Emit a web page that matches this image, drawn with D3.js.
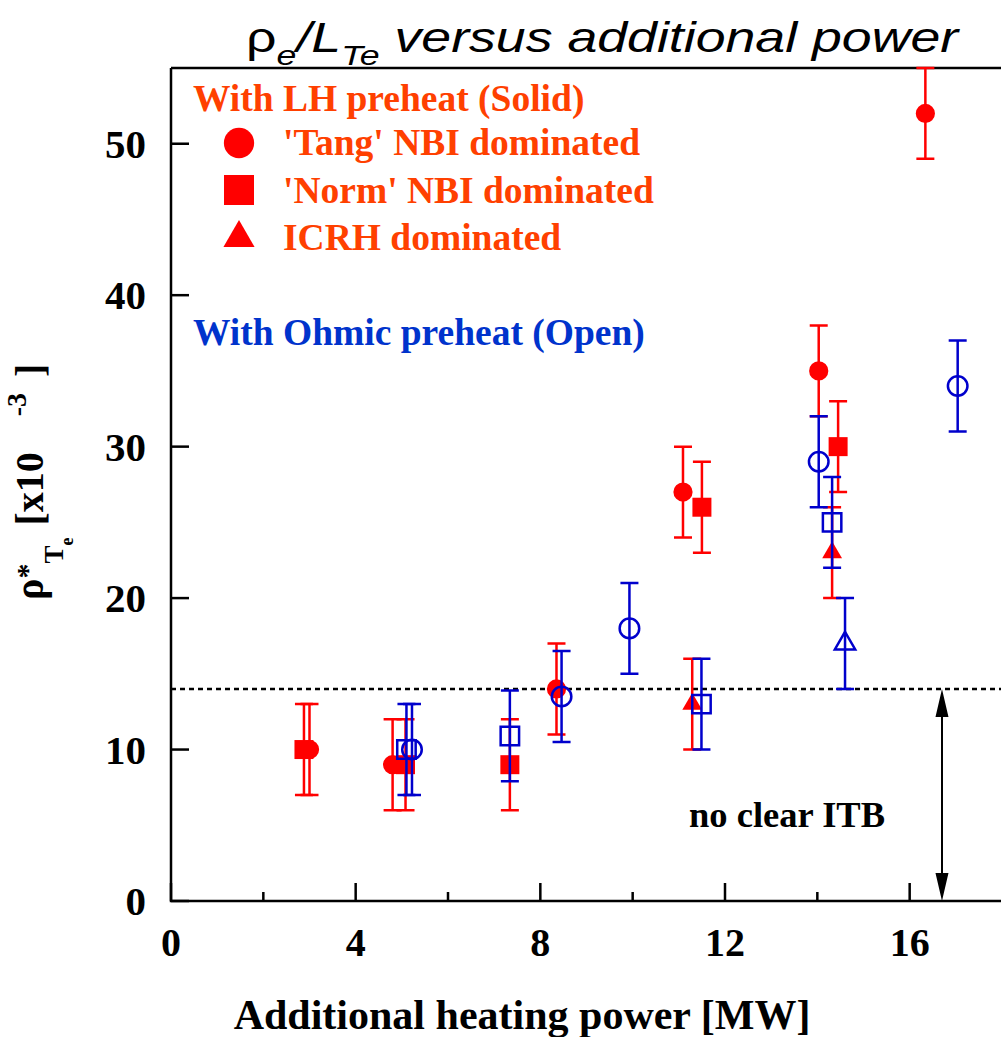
<!DOCTYPE html>
<html>
<head>
<meta charset="utf-8">
<script src="https://cdn.jsdelivr.net/npm/d3@7"></script>
<style>
  body { margin: 0; background: #fff; }
  svg { display: block; }
</style>
</head>
<body>
<script>
(function(){

    //data rows: [additional power MW, rho* x10^-3, error bar half height]
    //LH preheat (solid markers)
    var lhTang = [[3.0, 10, 3], [4.8, 9, 3], [8.35, 14, 3], [11.09, 27, 3], [14.03, 35, 3], [16.34, 52, 3]];
    var lhNorm = [[2.88, 10, 3], [5.08, 9, 3], [7.34, 9, 3], [11.5, 26, 3], [14.45, 30, 3]];
    var lhIcrh = [[11.29, 13, 3], [14.32, 23, 3]];
    //Ohmic preheat (open markers)
    var ohTang = [[5.22, 10, 3], [8.46, 13.5, 3], [9.93, 18, 3], [14.03, 29, 3], [17.04, 34, 3]];
    var ohNorm = [[5.1, 10, 3], [7.34, 10.9, 3], [11.49, 13, 3], [14.32, 25, 3]];
    var ohIcrh = [[14.6, 17, 3]];

    var xTicks = [0, 4, 8, 12, 16];
    var xMinorTicks = [2, 6, 10, 14];
    var yTicks = [0, 10, 20, 30, 40, 50];

    var itbLevel = 14;   //dotted threshold
    var itbArrowX = 16.7;

    var legendHeadLH = "With LH preheat (Solid)";
    var legendHeadOh = "With Ohmic preheat (Open)";
    var legendItems = ["'Tang' NBI dominated", "'Norm' NBI dominated", "ICRH dominated"];

    var red = "#ff0000", blue = "#0000cc",
        redText = "#ff4000", blueText = "#0033cc";
    var serif = "'Liberation Serif', 'Times New Roman', serif";

    var width = 1001, height = 1037;

    var svg = d3.select("body")
        .append("svg")
        .attr("width", width)
        .attr("height", height);

    var x = d3.scaleLinear().domain([0, 18]).range([171, 1002]);
    var y = d3.scaleLinear().domain([0, 55]).range([901, 68]);

    //frame
    var frame = svg.append("g")
        .attr("stroke", "#000")
        .attr("stroke-width", 2.5)
        .attr("fill", "none");
    frame.append("path")
        .attr("d", "M" + x(0) + "," + y(55) + "V" + y(0) + "H" + width);
    frame.append("path")
        .attr("d", "M" + x(0) + "," + y(55) + "H" + width);

    //ticks point inward
    frame.selectAll(".xt")
        .data(xTicks.concat(xMinorTicks))
        .enter()
        .append("line")
        .attr("x1", d => x(d)).attr("x2", d => x(d))
        .attr("y1", y(0))
        .attr("y2", d => y(0) - (xTicks.indexOf(d) >= 0 ? 18 : 9));
    frame.selectAll(".yt")
        .data(yTicks)
        .enter()
        .append("line")
        .attr("x1", x(0)).attr("x2", x(0) + 18)
        .attr("y1", d => y(d)).attr("y2", d => y(d));

    svg.selectAll(".xlab")
        .data(xTicks)
        .enter()
        .append("text")
        .attr("x", d => x(d))
        .attr("y", 956)
        .attr("text-anchor", "middle")
        .style("font", "bold 40px " + serif)
        .text(d => d);

    svg.selectAll(".ylab")
        .data(yTicks)
        .enter()
        .append("text")
        .attr("x", 146)
        .attr("y", d => y(d) + 14)
        .attr("text-anchor", "end")
        .style("font", "bold 41px " + serif)
        .text(d => d);

    //axis titles
    svg.append("text")
        .attr("x", 522)
        .attr("y", 1029)
        .attr("text-anchor", "middle")
        .style("font", "bold 42px " + serif)
        .text("Additional heating power [MW]");

    var yTitle = svg.append("text")
        .attr("transform", "translate(43,600) rotate(-90)")
        .style("font", "bold 40px " + serif);
    yTitle.append("tspan").text("ρ");
    yTitle.append("tspan").attr("dy", -6).style("font-size", "30px").text("*");
    yTitle.append("tspan").attr("dy", 26).style("font-size", "27px").text("T");
    yTitle.append("tspan").attr("dy", 10).style("font-size", "18px").text("e");
    yTitle.append("tspan").attr("dx", 12).attr("dy", -30).text("[x10");
    yTitle.append("tspan").attr("dx", 36).attr("dy", -17).style("font-size", "28px").text("-3");
    yTitle.append("tspan").attr("dx", 16).attr("dy", 17).text("]");

    //chart title
    var title = svg.append("text")
        .attr("x", 246)
        .attr("y", 52)
        .style("font", "italic 42px 'Liberation Sans', Arial, sans-serif");
    title.append("tspan").style("font-style", "normal").text("ρ");
    title.append("tspan").attr("dy", 13).style("font-size", "28px").text("e");
    title.append("tspan").attr("dy", -13).text("/L");
    title.append("tspan").attr("dy", 13).style("font-size", "28px").text("Te");
    title.append("tspan").attr("dy", -13).text(" versus additional power");
    stretchTo(title, 246, 715);

    //ITB threshold
    svg.append("line")
        .attr("x1", x(0)).attr("x2", width)
        .attr("y1", y(itbLevel)).attr("y2", y(itbLevel))
        .attr("stroke", "#000")
        .attr("stroke-width", 2.5)
        .attr("stroke-dasharray", "5,4");

    var ax = x(itbArrowX);
    svg.append("line")
        .attr("x1", ax).attr("x2", ax)
        .attr("y1", y(itbLevel) + 20).attr("y2", y(0) - 20)
        .attr("stroke", "#000")
        .attr("stroke-width", 2);
    svg.append("path")
        .attr("d", "M" + ax + "," + y(itbLevel) + "l-6.5,28h13z" +
                   "M" + ax + "," + y(0) + "l-6.5,-28h13z")
        .attr("fill", "#000");

    svg.append("text")
        .attr("x", 689)
        .attr("y", 827)
        .style("font", "bold 36.5px " + serif)
        .text("no clear ITB");

    //data series, red drawn first
    var series = [
        {data: lhTang, shape: d3.symbolCircle, size: 290, color: red, open: false},
        {data: lhNorm, shape: d3.symbolSquare, size: 361, color: red, open: false},
        {data: lhIcrh, shape: d3.symbolTriangle, size: 170, color: red, open: false},
        {data: ohTang, shape: d3.symbolCircle, size: 300, color: blue, open: true},
        {data: ohNorm, shape: d3.symbolSquare, size: 340, color: blue, open: true},
        {data: ohIcrh, shape: d3.symbolTriangle, size: 180, color: blue, open: true}
    ];

    series.forEach(function(s){
        var g = svg.append("g");
        g.selectAll(".err")
            .data(s.data)
            .enter()
            .append("path")
            .attr("d", function(d){
                var cx = x(d[0]), top = y(d[1] + d[2]), bot = y(d[1] - d[2]);
                return "M" + cx + "," + top + "V" + bot +
                       "M" + (cx - 9) + "," + top + "h18" +
                       "M" + (cx - 9) + "," + bot + "h18";
            })
            .attr("stroke", s.color)
            .attr("stroke-width", 2.5)
            .attr("fill", "none");

        g.selectAll(".mk")
            .data(s.data)
            .enter()
            .append("path")
            .attr("transform", d => "translate(" + x(d[0]) + "," + y(d[1]) + ")")
            .attr("d", d3.symbol().type(s.shape).size(s.size))
            .attr("fill", s.open ? "none" : s.color)
            .attr("stroke", s.color)
            .attr("stroke-width", s.open ? 2.5 : 0);
    });

    //legend
    svg.append("text")
        .attr("x", 193).attr("y", 111)
        .attr("fill", redText)
        .style("font", "bold 37.5px " + serif)
        .text(legendHeadLH);

    var legShapes = [d3.symbolCircle, d3.symbolSquare, d3.symbolTriangle];
    var legSizes = [720, 900, 420];
    var legY = [143, 190, 238];
    var legBase = [155, 203, 250];

    legendItems.forEach(function(label, i){
        svg.append("path")
            .attr("transform", "translate(239," + legY[i] + ")")
            .attr("d", d3.symbol().type(legShapes[i]).size(legSizes[i]))
            .attr("fill", red);
        svg.append("text")
            .attr("x", 283).attr("y", legBase[i])
            .attr("fill", redText)
            .style("font", "bold 37.5px " + serif)
            .text(label);
    });

    svg.append("text")
        .attr("x", 193).attr("y", 345)
        .attr("fill", blueText)
        .style("font", "bold 37.5px " + serif)
        .text(legendHeadOh);

    //stretch a text horizontally so it spans w pixels from x0
    function stretchTo(sel, x0, w){
        var bw = sel.node().getBBox().width;
        var k = w / bw;
        sel.attr("transform", "translate(" + x0 + ",0) scale(" + k + ",1) translate(" + (-x0) + ",0)");
    }

})();
</script>
</body>
</html>
